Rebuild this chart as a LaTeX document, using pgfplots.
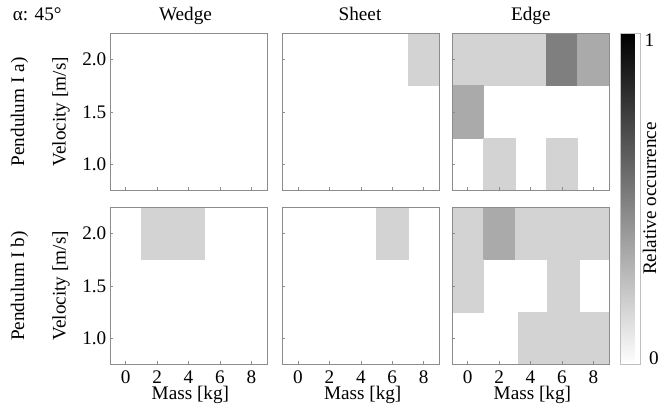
\documentclass[border=0pt]{standalone}
\usepackage{fontspec}
\setmainfont{Liberation Serif}
\usepackage{pgfplots}
\pgfplotsset{compat=1.18}
\newcommand\fs{\fontsize{19.2bp}{22bp}\selectfont}
\pgfplotsset{
  /pgf/number format/assume math mode=true,
  colormap={gw}{rgb255=(255,255,255) rgb255=(0,0,0)},
  panel/.style={
    scale only axis, width=157bp, height=157bp,
    anchor=north west,
    xmin=-1, xmax=9, ymin=0.75, ymax=2.25,
    xtick={0,2,4,6,8}, ytick={1,1.5,2},
    tick pos=left, tick align=inside, major tick length=3bp,
    axis line style={draw=black!45},
    every tick/.style={draw=black!45, line width=0.5bp},
    axis on top,
    colormap name=gw, point meta min=0, point meta max=1,
    xticklabels={}, yticklabels={},
    every x tick label/.append style={inner ysep=6.5bp},
    every y tick label/.append style={inner xsep=3.5bp},
  },
  withx/.style={
    xticklabels={0,2,4,6,8},
    xlabel={Mass [kg]},
    xlabel style={at={(axis description cs:0.512,-0.2245)}, anchor=base},
  },
  withy/.style={
    yticklabels={1.0,1.5,2.0},
    ylabel={Velocity [m/s]},
    ylabel style={at={(axis description cs:-0.282,0.5)}, anchor=base, rotate=0},
  },
  cells/.style={patch, patch type=rectangle, shader=flat, point meta=explicit},
}
\begin{document}
\fs
\begin{tikzpicture}
\useasboundingbox (0,0) rectangle (660bp,-409bp);

% ---------- top row ----------
\begin{axis}[panel, withy, at={(110bp,-33.3bp)}]
\end{axis}

\begin{axis}[panel, at={(282.3bp,-33.3bp)}]
\addplot[cells] table[meta=c] {
x y c
7 1.75 0.17
9 1.75 0.17
9 2.25 0.17
7 2.25 0.17
};
\end{axis}

\begin{axis}[panel, at={(452bp,-33.3bp)},
  colorbar,
  colorbar shift/.style={xshift=11.5bp},
  colorbar style={
    scale only axis, width=19.5bp, height=331bp,
    at={(parent axis.north east)}, anchor=north west,
    axis line style={draw=black!25},
    major tick length=0pt,
    ytick={1}, yticklabels={1},
    yticklabel style={anchor=north west, inner sep=0pt, xshift=4.5bp},
    extra y ticks={0}, extra y tick labels={0},
    extra y tick style={yticklabel style={anchor=base west, inner sep=0pt, xshift=4.5bp}},
  }]
\addplot[cells] table[meta=c] {
x y c
-1 1.75 0.17
5 1.75 0.17
5 2.25 0.17
-1 2.25 0.17
5 1.75 0.5
7 1.75 0.5
7 2.25 0.5
5 2.25 0.5
7 1.75 0.33
9 1.75 0.33
9 2.25 0.33
7 2.25 0.33
-1 1.25 0.33
1 1.25 0.33
1 1.75 0.33
-1 1.75 0.33
1 0.75 0.17
3 0.75 0.17
3 1.25 0.17
1 1.25 0.17
5 0.75 0.17
7 0.75 0.17
7 1.25 0.17
5 1.25 0.17
};
\end{axis}

% ---------- bottom row ----------
\begin{axis}[panel, withx, withy, at={(110bp,-207.3bp)}]
\addplot[cells] table[meta=c] {
x y c
1 1.75 0.17
5 1.75 0.17
5 2.25 0.17
1 2.25 0.17
};
\end{axis}

\begin{axis}[panel, withx, at={(282.3bp,-207.3bp)}]
\addplot[cells] table[meta=c] {
x y c
5 1.75 0.17
7 1.75 0.17
7 2.25 0.17
5 2.25 0.17
};
\end{axis}

\begin{axis}[panel, withx, at={(452bp,-207.3bp)}]
\addplot[cells] table[meta=c] {
x y c
-1 1.75 0.17
1 1.75 0.17
1 2.25 0.17
-1 2.25 0.17
1 1.75 0.33
3 1.75 0.33
3 2.25 0.33
1 2.25 0.33
3 1.75 0.17
9 1.75 0.17
9 2.25 0.17
3 2.25 0.17
-1 1.25 0.17
1 1.25 0.17
1 1.75 0.17
-1 1.75 0.17
5.06 1.25 0.17
7.13 1.25 0.17
7.13 1.75 0.17
5.06 1.75 0.17
3.23 0.75 0.17
9 0.75 0.17
9 1.25 0.17
3.23 1.25 0.17
};
\end{axis}

% ---------- titles and row labels ----------
\node[anchor=base west, inner sep=0pt] at (12.7bp,-20bp) {α: 45°};
\node[anchor=base, inner sep=0pt] at (185.5bp,-20.5bp) {Wedge};
\node[anchor=base, inner sep=0pt] at (360bp,-20.5bp) {Sheet};
\node[anchor=base, inner sep=0pt] at (530.8bp,-20.5bp) {Edge};
\node[anchor=base, inner sep=0pt, rotate=90] at (24bp,-112bp) {Pendulum I a)};
\node[anchor=base, inner sep=0pt, rotate=90] at (24bp,-286bp) {Pendulum I b)};
\node[anchor=base, inner sep=0pt, rotate=90] at (656bp,-198.5bp) {Relative occurrence};
\end{tikzpicture}
\end{document}
